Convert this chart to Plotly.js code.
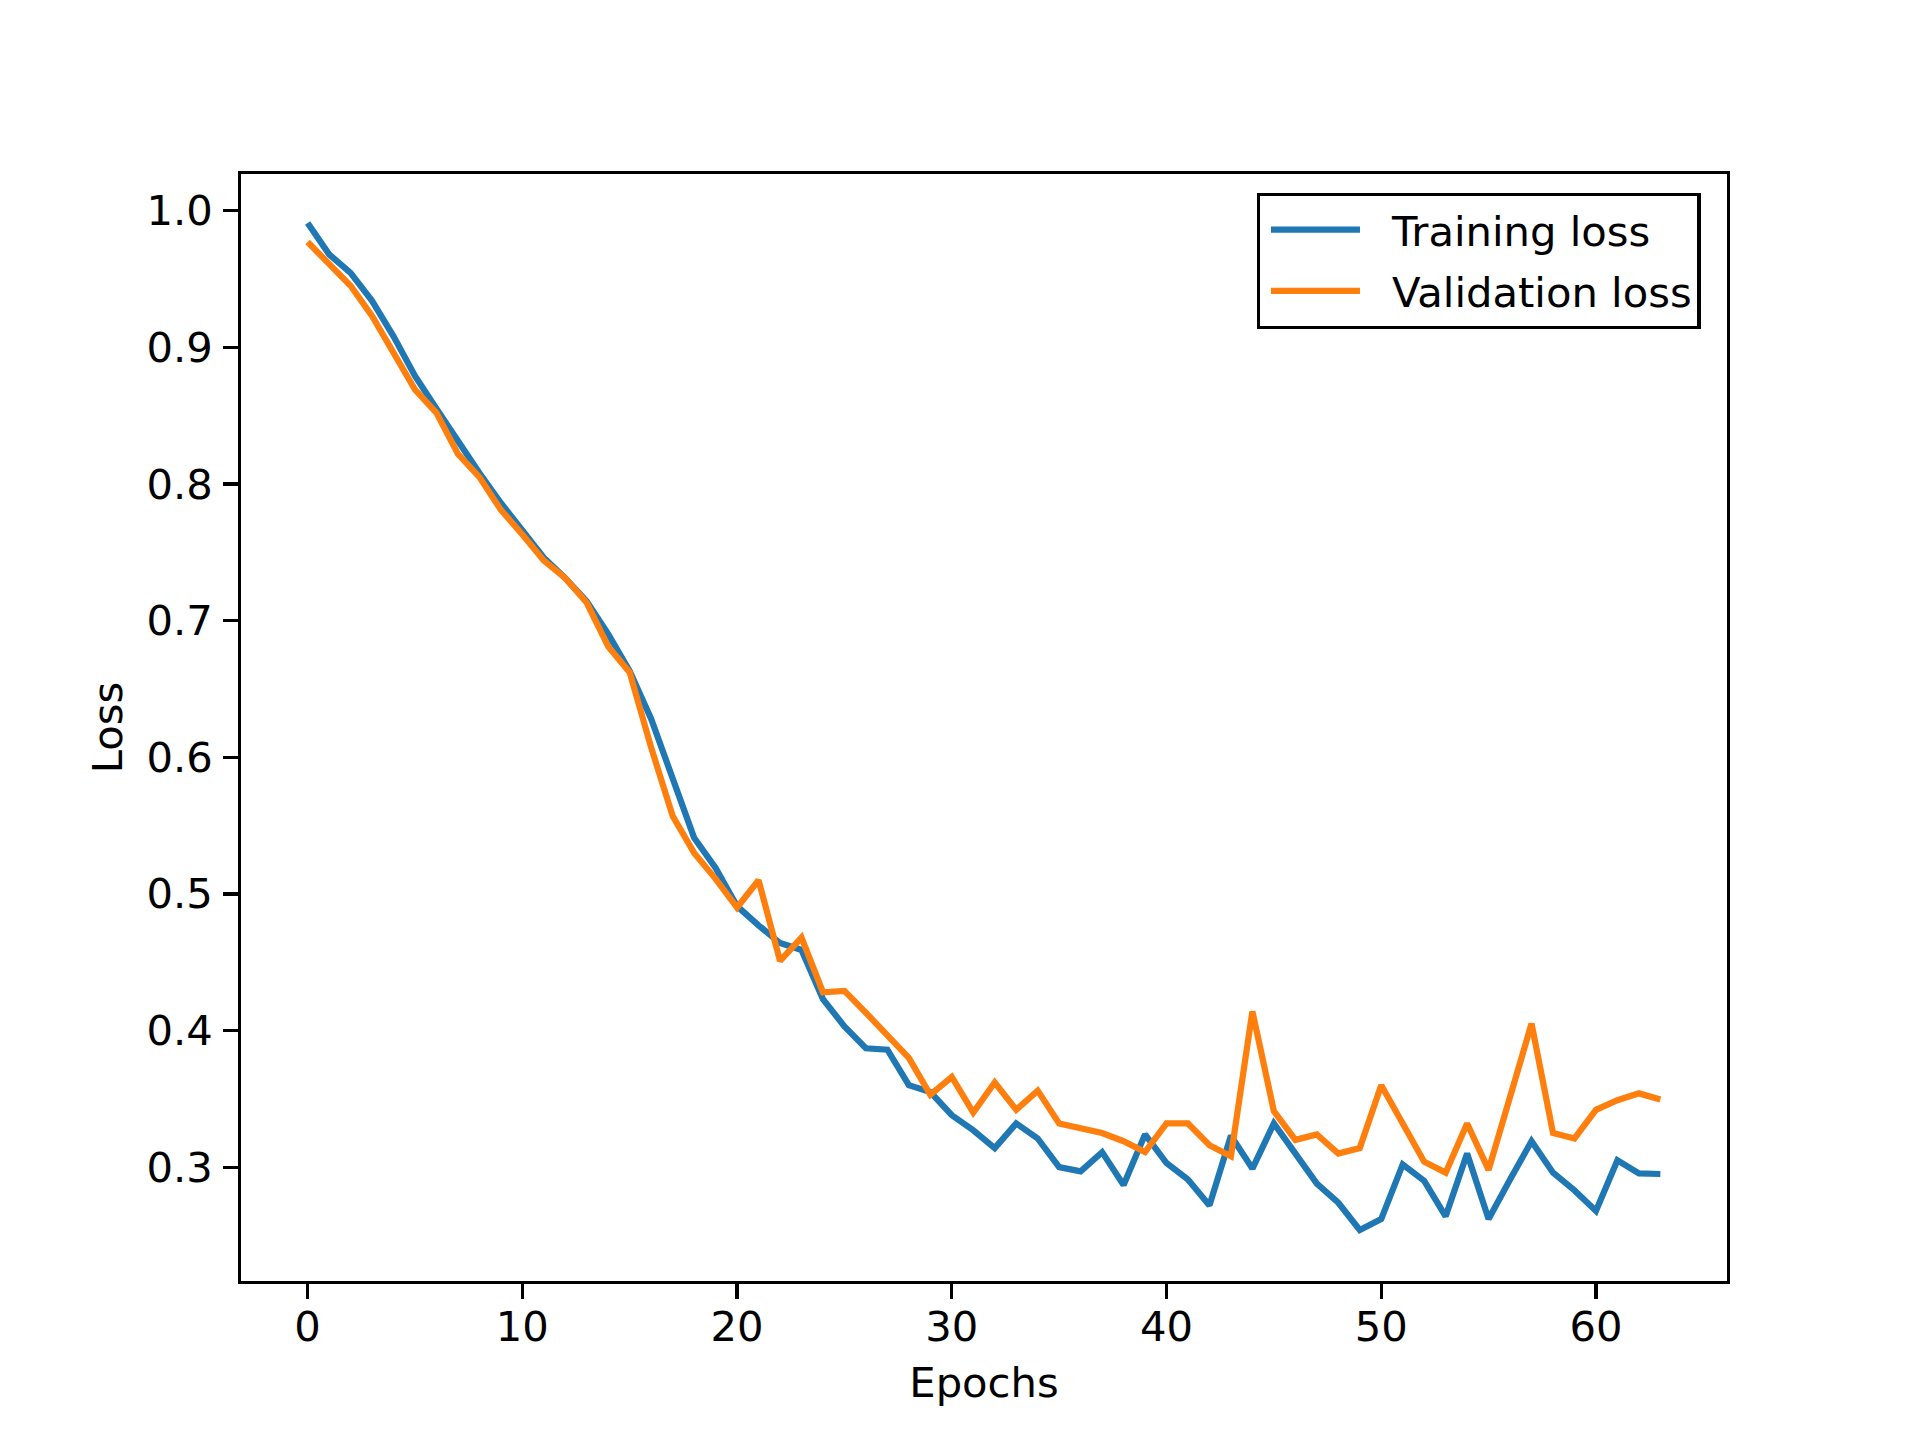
<!DOCTYPE html>
<html>
<head>
<meta charset="utf-8">
<script src="https://cdn.plot.ly/plotly-3.0.1.min.js"></script>
<style>
  html, body { margin: 0; padding: 0; background: #ffffff; }
  #chart { width: 1920px; height: 1440px; }
</style>
</head>
<body>
<div id="chart"></div>
<script>
const epochs = [0,1,2,3,4,5,6,7,8,9,10,11,12,13,14,15,16,17,18,19,20,21,22,23,24,25,26,27,28,29,30,31,
  32,33,34,35,36,37,38,39,40,41,42,43,44,45,46,47,48,49,50,51,52,53,54,55,56,57,58,59,60,61,62,63];

const trainingLoss = [0.991,0.968,0.9545,0.934,0.908,0.879,0.855,0.831,0.808,0.786,0.766,0.746,0.731,0.714,0.690,0.663,
  0.628,0.585,0.541,0.519,0.491,0.477,0.464,0.459,0.423,0.403,0.387,0.386,0.360,0.355,0.338,0.327,
  0.314,0.332,0.321,0.300,0.297,0.311,0.287,0.324,0.303,0.291,0.272,0.323,0.299,0.332,0.310,0.288,
  0.274,0.254,0.262,0.302,0.290,0.264,0.310,0.262,0.291,0.319,0.296,0.283,0.268,0.305,0.2955,0.295];

const validationLoss = [0.977,0.961,0.945,0.923,0.896,0.869,0.852,0.822,0.805,0.781,0.763,0.744,0.731,0.713,0.681,0.662,
  0.607,0.557,0.530,0.511,0.490,0.510,0.451,0.468,0.428,0.429,0.413,0.397,0.380,0.353,0.366,0.340,
  0.362,0.342,0.356,0.332,0.328,0.325,0.319,0.311,0.332,0.332,0.316,0.308,0.414,0.341,0.320,0.324,
  0.310,0.314,0.360,0.332,0.304,0.296,0.332,0.298,0.351,0.405,0.325,0.321,0.342,0.349,0.354,0.3495];

const xTicks = [0,10,20,30,40,50,60];
const yTicks = [0.3,0.4,0.5,0.6,0.7,0.8,0.9,1.0];
const yTickLabels = ["0.3","0.4","0.5","0.6","0.7","0.8","0.9","1.0"];

const FONT = "DejaVu Sans, Verdana, sans-serif";
const FS = 41.7;

const traces = [
  { x: epochs, y: trainingLoss, type: "scatter", mode: "lines", name: "Training loss",
    legendgroup: "train", line: { color: "#1f77b4", width: 6.25 } },
  { x: epochs, y: validationLoss, type: "scatter", mode: "lines", name: "Validation loss",
    legendgroup: "val", line: { color: "#ff7f0e", width: 6.25 } }
];

const axisCommon = {
  showline: true, mirror: true, linecolor: "#000000", linewidth: 3.3,
  ticks: "outside", ticklen: 14.6, tickwidth: 3.3, tickcolor: "#000000",
  showgrid: false, zeroline: false,
  tickfont: { family: FONT, size: FS, color: "#000000" }
};

const layout = {
  width: 1920, height: 1440,
  paper_bgcolor: "#ffffff", plot_bgcolor: "#ffffff",
  margin: { l: 241, r: 193, t: 174, b: 159, pad: 0 },
  font: { family: FONT, size: FS, color: "#000000" },
  xaxis: Object.assign({}, axisCommon, {
    range: [-3.103, 66.103], tickmode: "array", tickvals: xTicks, ticktext: xTicks.map(String),
    ticklabelstandoff: -8,
    title: { text: "Epochs", font: { family: FONT, size: FS, color: "#000000" }, standoff: 19 }
  }),
  yaxis: Object.assign({}, axisCommon, {
    range: [0.2167, 1.0268], tickmode: "array", tickvals: yTicks, ticktext: yTickLabels,
    ticklabelstandoff: 2,
    title: { text: "Loss", font: { family: FONT, size: FS, color: "#000000" }, standoff: 12 }
  }),
  showlegend: true,
  legend: {
    x: 0.6835, y: 0.983, xanchor: "left", yanchor: "top",
    bgcolor: "#ffffff", bordercolor: "#000000", borderwidth: 3.3,
    font: { family: FONT, size: FS, color: "#000000" },
    traceorder: "grouped", itemwidth: 122, tracegroupgap: 4
  }
};

Plotly.newPlot("chart", traces, layout, { displayModeBar: false, staticPlot: true }).then(function (gd) {
  // lengthen legend sample lines to match the reference
  gd.querySelectorAll(".legend .legendlines path").forEach(function (p) {
    p.setAttribute("d", "M11,0h89");
  });
});
</script>
</body>
</html>
